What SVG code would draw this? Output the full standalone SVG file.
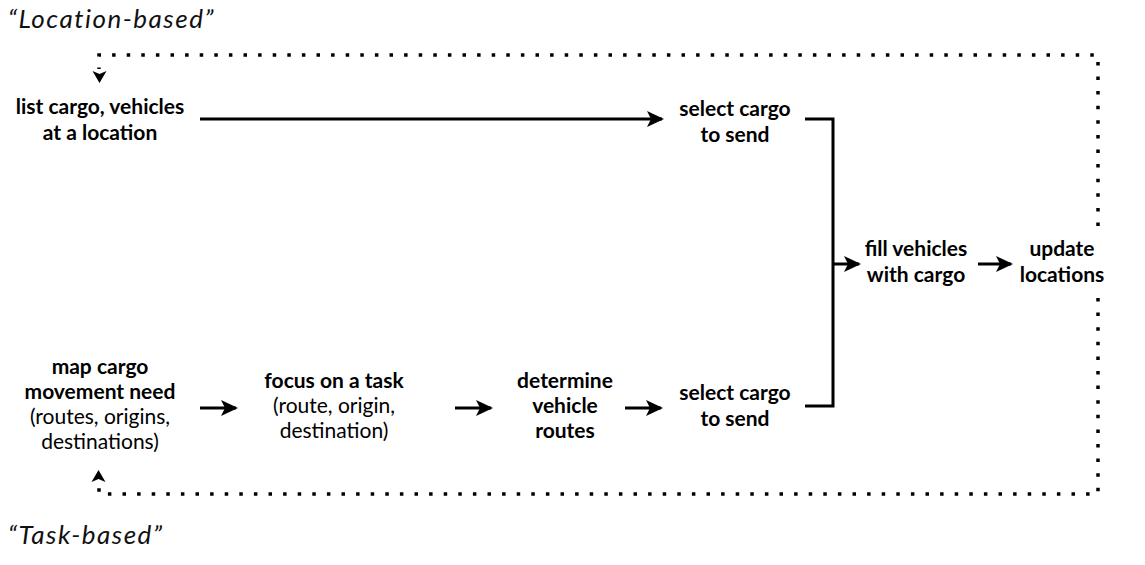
<svg xmlns="http://www.w3.org/2000/svg" width="1145" height="565" viewBox="0 0 1145 565">
  <style>
    text { font-family: Lato, "Open Sans", "Liberation Sans", sans-serif; fill: #000; }
    .b { font-size: 21px; font-weight: bold; text-anchor: middle; }
    .r { font-size: 21px; font-weight: normal; text-anchor: middle; }
    .hdr { font-size: 26px; font-style: italic; letter-spacing: 1.5px; fill: #111; }
    .flow { fill: none; stroke: #000; stroke-width: 3; }
    .loop { fill: none; stroke: #000; stroke-width: 3.5; stroke-dasharray: 3.5 11.1; }
  </style>
  <defs>
    <marker id="head" markerUnits="userSpaceOnUse" markerWidth="20" markerHeight="18" refX="15" refY="8" orient="auto">
      <path d="M0,0 L17,8 L0,16 L4,8 Z" fill="#000"/>
    </marker>
  </defs>

  <text class="hdr" x="8" y="28">“Location-based”</text>
  <text class="hdr" x="8" y="544">“Task-based”</text>

  <g id="connectors">
    <!-- feedback loops from "update locations" back to both starting points -->
    <path class="loop" d="M1098,226 V55 H99 V69"/>
    <path class="loop" d="M1098,298 V494 H99 V483"/>
    <path d="M92.5,71 L99.5,74 L106.5,71 L99.5,83 Z" fill="#000"/>
    <path d="M91.5,482 L98.5,479 L105.5,482 L98.5,470 Z" fill="#000"/>

    <!-- location-based row -->
    <path class="flow" d="M200,119 H662" marker-end="url(#head)"/>

    <!-- task-based row -->
    <path class="flow" d="M200,408 H236" marker-end="url(#head)"/>
    <path class="flow" d="M455,408 H491" marker-end="url(#head)"/>
    <path class="flow" d="M625,408 H661" marker-end="url(#head)"/>

    <!-- merge bracket into "fill vehicles" -->
    <path class="flow" d="M805,119 H833 V406 H805"/>
    <path class="flow" d="M833,264 H859" marker-end="url(#head)"/>
    <path class="flow" d="M978,264 H1011" marker-end="url(#head)"/>
  </g>

  <g id="list-cargo">
    <text class="b" x="100" y="114">list cargo, vehicles</text>
    <text class="b" x="100" y="140">at a location</text>
  </g>
  <g id="select-cargo-top">
    <text class="b" x="735" y="116">select cargo</text>
    <text class="b" x="735" y="142">to send</text>
  </g>
  <g id="fill-vehicles">
    <text class="b" x="916" y="256">fill vehicles</text>
    <text class="b" x="916" y="282">with cargo</text>
  </g>
  <g id="update-locations">
    <text class="b" x="1062" y="256">update</text>
    <text class="b" x="1062" y="282">locations</text>
  </g>
  <g id="map-cargo">
    <text class="b" x="100" y="374">map cargo</text>
    <text class="b" x="100" y="399">movement need</text>
    <text class="r" x="100" y="424">(routes, origins,</text>
    <text class="r" x="100" y="449">destinations)</text>
  </g>
  <g id="focus-task">
    <text class="b" x="334" y="388">focus on a task</text>
    <text class="r" x="334" y="413">(route, origin,</text>
    <text class="r" x="334" y="438">destination)</text>
  </g>
  <g id="determine-routes">
    <text class="b" x="565" y="388">determine</text>
    <text class="b" x="565" y="413">vehicle</text>
    <text class="b" x="565" y="438">routes</text>
  </g>
  <g id="select-cargo-bottom">
    <text class="b" x="735" y="400">select cargo</text>
    <text class="b" x="735" y="426">to send</text>
  </g>
</svg>
